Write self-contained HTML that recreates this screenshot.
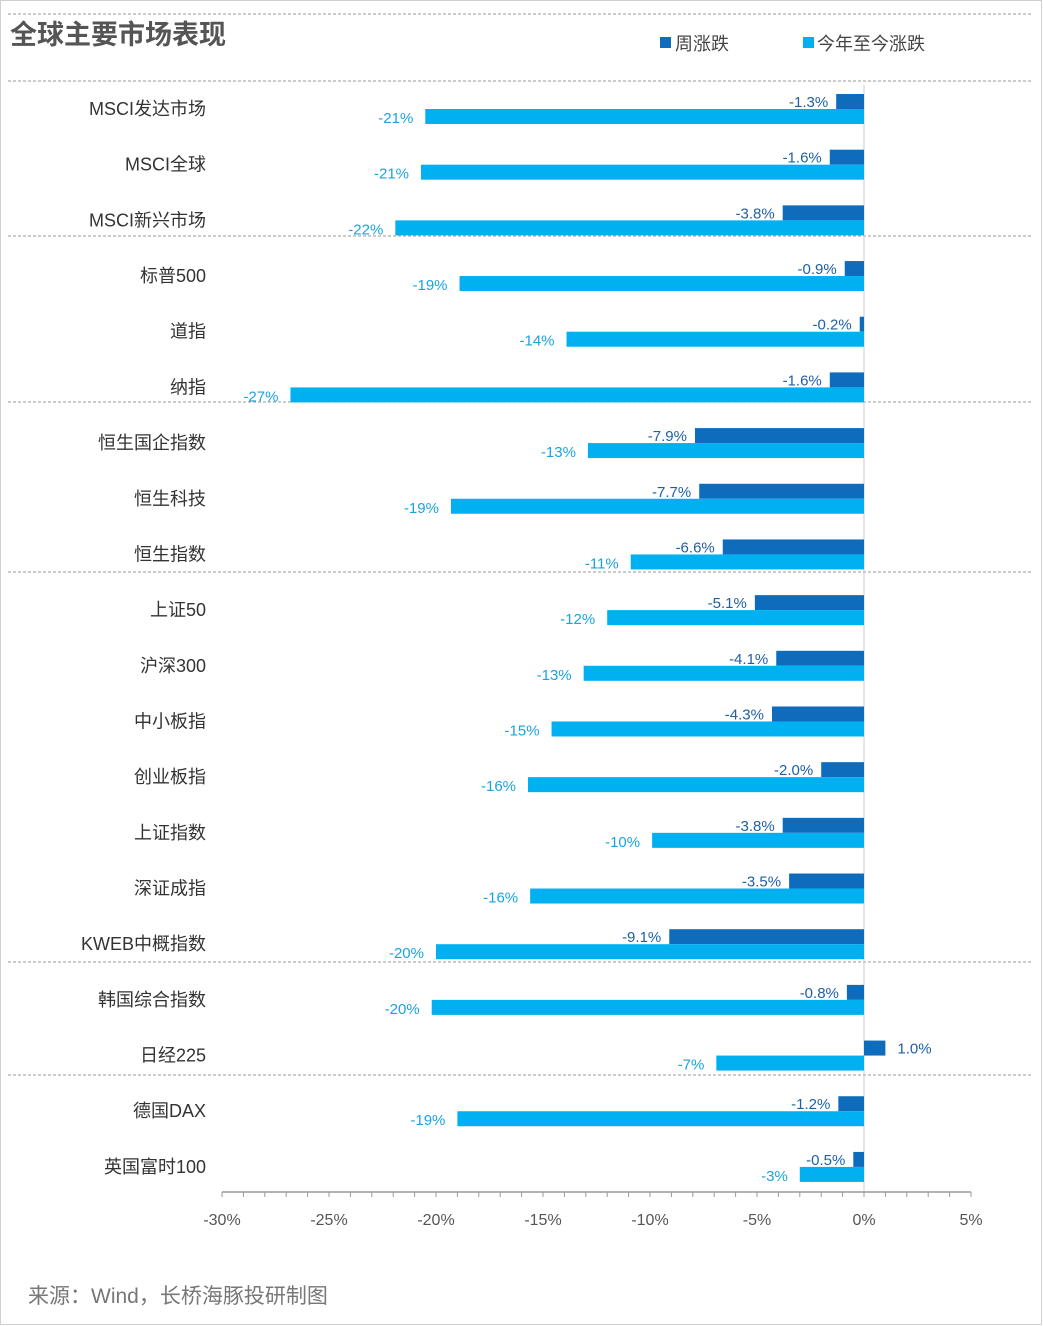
<!DOCTYPE html>
<html><head><meta charset="utf-8"><style>
body{margin:0;background:#fff;}
svg{display:block;font-family:"Liberation Sans","Noto Sans CJK SC",sans-serif;}
</style></head><body>
<svg id="c" width="1043" height="1326" xmlns="http://www.w3.org/2000/svg">
<rect x="0.5" y="0.5" width="1041" height="1324" fill="#fff" stroke="#d0d0d0"/>
<text x="10" y="44" font-size="27" font-weight="bold" fill="#555">全球主要市场表现</text>
<rect x="660" y="37" width="11" height="11" fill="#0f6cbd"/>
<text x="675" y="50" font-size="18" fill="#444">周涨跌</text>
<rect x="803" y="37" width="11" height="11" fill="#00b0f0"/>
<text x="817" y="50" font-size="18" fill="#444">今年至今涨跌</text>
<text x="28" y="1303" font-size="21" fill="#777">来源：Wind，长桥海豚投研制图</text>
<g id="g"></g>
</svg>
<script>
const categories=["MSCI发达市场","MSCI全球","MSCI新兴市场","标普500","道指","纳指","恒生国企指数","恒生科技","恒生指数","上证50","沪深300","中小板指","创业板指","上证指数","深证成指","KWEB中概指数","韩国综合指数","日经225","德国DAX","英国富时100"];
const weekly=[-1.3,-1.6,-3.8,-0.9,-0.2,-1.6,-7.9,-7.7,-6.6,-5.1,-4.1,-4.3,-2.0,-3.8,-3.5,-9.1,-0.8,1.0,-1.2,-0.5];
const ytd=[-20.5,-20.7,-21.9,-18.9,-13.9,-26.8,-12.9,-19.3,-10.9,-12.0,-13.1,-14.6,-15.7,-9.9,-15.6,-20.0,-20.2,-6.9,-19.0,-3.0];
const ytdLabels=["-21%","-21%","-22%","-19%","-14%","-27%","-13%","-19%","-11%","-12%","-13%","-15%","-16%","-10%","-16%","-20%","-20%","-7%","-19%","-3%"];
const ticks=[-30,-25,-20,-15,-10,-5,0,5];
const separators=[14,81,236,402,572,962,1075];
const NS="http://www.w3.org/2000/svg";
const g=document.getElementById('g');
const X=v=>864+v*(107/5);
const Y=i=>109+55.68*i;
function mk(t,a,txt){const e=document.createElementNS(NS,t);for(const k in a)e.setAttribute(k,a[k]);if(txt!==undefined)e.textContent=txt;g.appendChild(e);return e;}
separators.forEach((y,i)=>{const e=mk('line',{x1:8,x2:1032,y1:y,y2:y,stroke:'#999','stroke-dasharray':'3,2'});

});
const z=mk('line',{x1:X(0),x2:X(0),y1:85,y2:1192,stroke:'#ccc'});


const ax=mk('line',{x1:X(-30),x2:X(5),y1:1192,y2:1192,stroke:'#999','stroke-width':1.5});


for(let v=-30;v<=5;v++){const t=mk('line',{x1:X(v),x2:X(v),y1:1192,y2:1197,stroke:'#999'});

}
ticks.forEach(v=>{const t=mk('text',{x:X(v),y:1225,'font-size':16,fill:'#555','text-anchor':'middle'},v+'%');

});
categories.forEach((c,i)=>{
const y=Y(i);
const l=mk('text',{x:206,y:y+6,'font-size':18,fill:'#333','text-anchor':'end'},c);


const w=weekly[i];
const b=mk('rect',{x:Math.min(X(0),X(w)),y:y-15,width:Math.abs(X(w)-X(0)),height:15,fill:'#0f6cbd'});


const wl=w<0?mk('text',{x:X(w)-8,y:y-2,'font-size':15,fill:'#1f5fa8','text-anchor':'end'},w.toFixed(1)+'%'):mk('text',{x:X(w)+12,y:y-2,'font-size':15,fill:'#1f5fa8'},w.toFixed(1)+'%');


const v=ytd[i];
const b2=mk('rect',{x:Math.min(X(0),X(v)),y:y,width:Math.abs(X(v)-X(0)),height:15,fill:'#00b0f0'});


const yl=mk('text',{x:X(v)-12,y:y+14,'font-size':15,fill:'#1aa3e0','text-anchor':'end'},ytdLabels[i]);


});
</script>
</body></html>
